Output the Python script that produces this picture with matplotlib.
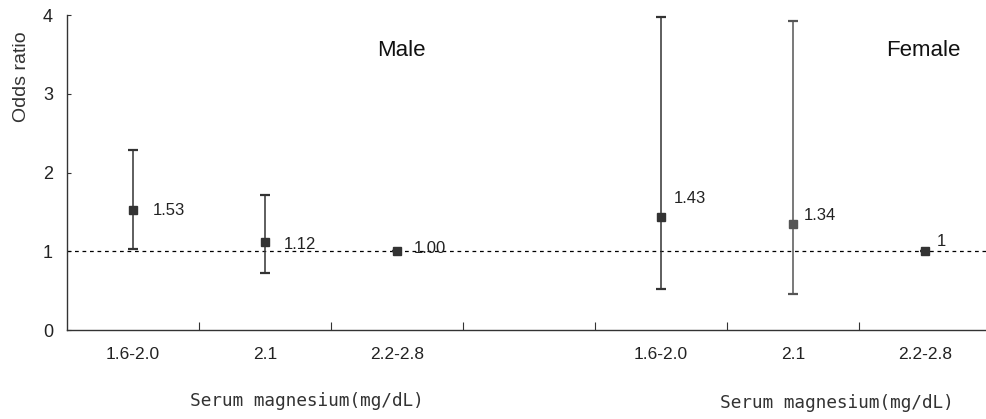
import numpy as np
import matplotlib
matplotlib.use('Agg')
from matplotlib import pyplot as plt

plt.rcParams['font.family'] = ['Liberation Sans', 'DejaVu Sans']

# categories: 7 slots, the fourth is an empty gap between sexes
categories = ['1.6-2.0', '2.1', '2.2-2.8', '', '1.6-2.0', '2.1', '2.2-2.8']
male_pos = [0, 1, 2]
female_pos = [4, 5, 6]

male_or = [1.53, 1.12, 1.00]
male_low = [1.03, 0.73, 1.00]
male_high = [2.29, 1.72, 1.00]
male_labels = ['1.53', '1.12', '1.00']

female_or = [1.43, 1.34, 1.00]
female_low = [0.52, 0.46, 1.00]
female_high = [3.97, 3.93, 1.00]
female_labels = ['1.43', '1.34', '1']

W, H = 987, 419
fig = plt.figure(figsize=(W / 100, H / 100), dpi=100)
# axis box in pixels: left 67, right 991 (cut by image edge), top 15, bottom 330
ax = fig.add_axes([67 / W, 1 - 330 / H, (991 - 67) / W, (330 - 15) / H])

dark = '#333333'


def draw(pos, vals, lo, hi, color):
    vals = np.array(vals)
    err = np.vstack([vals - np.array(lo), np.array(hi) - vals])
    ax.errorbar(pos, vals, yerr=err, fmt='s', color=color, ecolor=color,
                markersize=6, elinewidth=1.1, capsize=3.5, capthick=1.6, zorder=3)


draw(male_pos, male_or, male_low, male_high, dark)
draw(female_pos[:1], female_or[:1], female_low[:1], female_high[:1], dark)
draw(female_pos[1:2], female_or[1:2], female_low[1:2], female_high[1:2], '#555555')
draw(female_pos[2:], female_or[2:], female_low[2:], female_high[2:], dark)

ax.axhline(1, color='black', lw=0.9, ls=(0, (3, 3)), zorder=2)

# value labels (offsets in data units)
male_lab_xy = [(0.15, 1.52), (0.14, 1.08), (0.13, 1.03)]
female_lab_xy = [(0.10, 1.67), (0.08, 1.45), (0.09, 1.12)]
for p, (dx, y), t in zip(male_pos, male_lab_xy, male_labels):
    ax.text(p + dx, y, t, fontsize=12, color='#222222', va='center', ha='left')
for p, (dx, y), t in zip(female_pos, female_lab_xy, female_labels):
    ax.text(p + dx, y, t, fontsize=12, color='#222222', va='center', ha='left')

ax.text(2.03, 3.55, 'Male', fontsize=16, ha='center', va='center', color='#111111')
ax.text(5.99, 3.55, 'Female', fontsize=16, ha='center', va='center', color='#111111')

ax.set_xlim(-0.5, 6.5)
ax.set_ylim(0, 4)
ax.set_yticks([0, 1, 2, 3, 4])
ax.set_xticks(np.arange(0.5, 6.5, 1.0))
ax.set_xticklabels([])
ax.set_xticks(male_pos + female_pos, minor=True)
ax.set_xticklabels([categories[i] for i in male_pos + female_pos], minor=True)
ax.tick_params(axis='x', which='major', direction='in', length=6, color=dark)
ax.tick_params(axis='x', which='minor', length=0, pad=12, labelsize=12.5, labelcolor='#222222')
ax.tick_params(axis='y', direction='in', length=3, color=dark, labelsize=13,
               labelcolor='#222222', pad=10)

for s in ['top', 'right']:
    ax.spines[s].set_visible(False)
for s in ['left', 'bottom']:
    ax.spines[s].set_color(dark)
    ax.spines[s].set_linewidth(1.0)

fig.text(22 / W, 1 - 77 / H, 'Odds ratio', rotation=90, fontsize=14,
         ha='center', va='center', color='#333333')
fig.text(307 / W, 1 - 401 / H, 'Serum magnesium(mg/dL)', fontsize=12.8,
         family='DejaVu Sans Mono', ha='center', va='center', color='#333333')
fig.text(837 / W, 1 - 403 / H, 'Serum magnesium(mg/dL)', fontsize=12.8,
         family='DejaVu Sans Mono', ha='center', va='center', color='#333333')

fig.savefig('out.png', dpi=100)
